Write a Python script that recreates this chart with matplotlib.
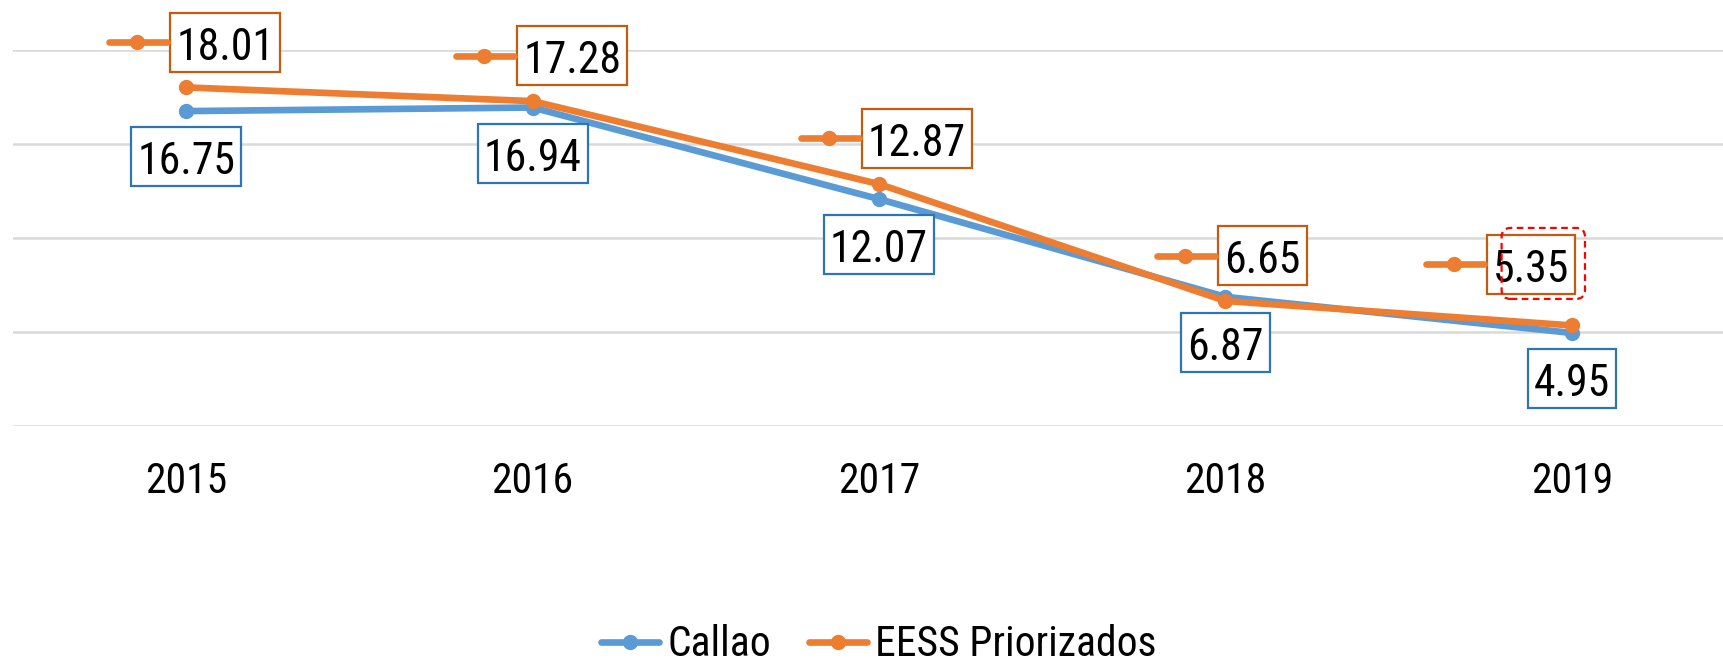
import matplotlib
matplotlib.use('Agg')
import matplotlib.pyplot as plt
from matplotlib.lines import Line2D
from matplotlib.patches import Rectangle, FancyBboxPatch
from matplotlib.transforms import IdentityTransform
from matplotlib import font_manager
from matplotlib.font_manager import FontProperties

# ---------------- data ----------------
years = ['2015', '2016', '2017', '2018', '2019']
callao = [16.75, 16.94, 12.07, 6.87, 4.95]
eess = [18.01, 17.28, 12.87, 6.65, 5.35]
series_names = ['Callao', 'EESS Priorizados']
y_gridlines = [0, 5, 10, 15, 20]


# ---------------- font: prefer a narrow / condensed sans ----------------
def find_font():
    entries = font_manager.fontManager.ttflist

    def regular(f):
        return f.style == 'normal' and f.weight in (400, 'normal', 'regular', 'book')

    prefs = [('Liberation Sans Narrow', None), ('Arial Narrow', None),
             ('Roboto Condensed', None), ('Open Sans Condensed', None),
             ('Noto Sans', 'condensed'), ('Open Sans', 'condensed'),
             ('Roboto', 'condensed'), ('DejaVu Sans', 'condensed'),
             ('Noto Sans', 'semi-condensed'), ('Open Sans', 'semi-condensed')]
    for name, stretch in prefs:
        for f in entries:
            if f.name == name and regular(f) and (stretch is None or f.stretch == stretch):
                return f.fname
    for f in entries:
        low = f.fname.lower()
        if ('narrow' in low or 'condensed' in low) and 'bold' not in low \
                and 'italic' not in low and 'oblique' not in low and 'light' not in low:
            return f.fname
    return None


path = find_font()
plt.rcParams['font.family'] = ['Liberation Sans', 'DejaVu Sans']


def fp(size):
    if path:
        return FontProperties(fname=path, size=size)
    return FontProperties(family=['Liberation Sans', 'DejaVu Sans'], size=size)


BLUE = '#5B9BD5'
ORANGE = '#ED7D31'
BLUE_EDGE = '#2E75B6'
ORANGE_EDGE = '#C55A11'
GRID = '#D9D9D9'

W, H = 1724, 663
fig = plt.figure(figsize=(W / 100, H / 100), dpi=100)
ax = fig.add_axes([13 / W, (H - 426) / H, 1732 / W, 376 / H])

xs = list(range(len(years)))
LW = 4.8
MS = 10
ax.plot(xs, callao, color=BLUE, lw=LW, marker='o', ms=MS, label=series_names[0],
        solid_capstyle='round', zorder=3, clip_on=False)
ax.plot(xs, eess, color=ORANGE, lw=LW, marker='o', ms=MS, label=series_names[1],
        solid_capstyle='round', zorder=4, clip_on=False)

ax.set_xlim(-0.5, len(years) - 0.5)
ax.set_ylim(y_gridlines[0], y_gridlines[-1])
ax.set_yticks(y_gridlines)
ax.set_yticklabels([])
ax.tick_params(axis='y', length=0)
ax.set_xticks(xs)
ax.set_xticklabels(years)
for lbl in ax.get_xticklabels():
    lbl.set_fontproperties(fp(30))
ax.tick_params(axis='x', length=0, pad=25)
for s in ax.spines.values():
    s.set_visible(False)
ax.grid(axis='y', color=GRID, lw=1.8)
ax.set_axisbelow(True)

handles, labels = ax.get_legend_handles_labels()
fig.legend(handles, labels, loc='center', bbox_to_anchor=(879 / W, 18 / H),
           ncol=2, frameon=False, prop=fp(30), handlelength=1.4,
           handletextpad=0.2, columnspacing=0.9)

# ---------------- data labels ----------------
fig.canvas.draw()
renderer = fig.canvas.get_renderer()
ID = IdentityTransform()
LABEL_FS = 31.5


def add_label(xi, yv, dx, dy, edge, key=False, selected=False):
    px, py = ax.transData.transform((xi, yv))
    cx, cy = px + dx, py - dy
    t = fig.text(cx, cy - 17.5, f'{yv:.2f}', transform=ID, ha='center', va='baseline',
                 fontproperties=fp(LABEL_FS), color='black', zorder=7)
    ext = t.get_window_extent(renderer)
    bw, bh = ext.width + 12, 59
    fig.add_artist(Rectangle((cx - bw / 2, cy - bh / 2), bw, bh, transform=ID,
                             fc='white', ec=edge, lw=1.6, zorder=6))
    if key:
        x1 = cx - bw / 2 - 3
        x0 = x1 - 58
        fig.add_artist(Line2D([x0, x1], [cy, cy], transform=ID, color=ORANGE, lw=LW,
                              solid_capstyle='round', zorder=6))
        fig.add_artist(Line2D([(x0 + x1) / 2 - 1], [cy], transform=ID, color=ORANGE,
                              marker='o', ms=MS, lw=0, zorder=6))
    if selected:
        l, r = cx - bw / 2 + 15, cx + bw / 2 + 10
        b, tp = cy - bh / 2 - 5, cy + bh / 2 + 7
        fig.add_artist(FancyBboxPatch((l, b), r - l, tp - b,
                                      boxstyle='round,pad=0,rounding_size=9',
                                      transform=ID, fc='none', ec='#FF0000',
                                      ls=(0, (3, 2)), lw=1.6, zorder=8))


# Callao labels below the points
for i, v in enumerate(callao):
    add_label(i, v, 0, 45.5, BLUE_EDGE)

# EESS labels above the points (legend key shown); last one manually moved
eess_offsets = [(39, -45), (39.5, -45.5), (37.5, -46), (37, -45), (-41, -61)]
for i, v in enumerate(eess):
    dx, dy = eess_offsets[i]
    add_label(i, v, dx, dy, ORANGE_EDGE, key=True, selected=(i == len(eess) - 1))

fig.savefig('out.png', dpi=100)
